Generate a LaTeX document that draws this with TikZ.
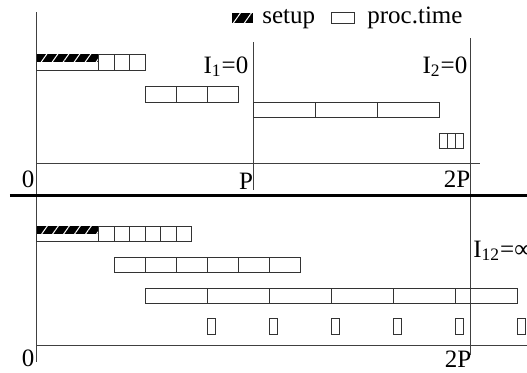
\documentclass[tikz,border=0pt]{standalone}
\usepackage{fontspec}
\setmainfont{Liberation Serif}
\usetikzlibrary{patterns.meta}

\begin{document}
\begin{tikzpicture}[x=0.5pt,y=-0.5pt,
    font=\fontsize{12.5}{14}\selectfont,
    axis/.style={draw=black!75,line width=0.5pt},
    box/.style={draw=black!80,line width=0.5pt},
    hatch/.style={fill=black,postaction={pattern={Lines[angle=55,distance=4.5pt,line width=0.5pt]},pattern color=white}},
    lbl/.style={inner sep=0pt,anchor=base}]
    \useasboundingbox (0,0) rectangle (527,372);

    % axes
    \coordinate (ytop) at (37,12);
    \coordinate (ybot) at (37,362);
    \coordinate (xa) at (37,163);
    \coordinate (xb) at (480,163);
    \coordinate (ptop) at (254,42);
    \coordinate (pbot) at (254,190);
    \coordinate (qtop) at (471,38);
    \coordinate (qbot) at (471,355);
    \coordinate (sa) at (10,195);
    \coordinate (sb) at (527,195);
    \coordinate (xc) at (37,345);
    \coordinate (xd) at (527,345);
    \draw[axis] (ytop) -- (ybot);
    \draw[axis] (xa) -- (xb);
    \draw[axis] (ptop) -- (pbot);
    \draw[axis] (qtop) -- (qbot);
    \draw[axis] (xc) -- (xd);
    \draw[line width=1.5pt] (sa) -- (sb);

    % labels
    \node[lbl] (zeroA) at (28,187) {0};
    \node[lbl] (P) at (246,189) {P};
    \node[lbl] (twoPA) at (457,187) {2P};
    \node[lbl] (zeroB) at (28,366) {0};
    \node[lbl] (twoPB) at (458,367) {2P};
    \node[lbl] (I1) at (226,73) {I\textsubscript{1}=0};
    \node[lbl] (I2) at (445,73) {I\textsubscript{2}=0};
    \node[lbl,anchor=base west] (I12) at (473,257) {I\textsubscript{12}=∞};

    % legend
    \fill[hatch] (232,13) rectangle (253,23);
    \node[lbl,anchor=base west] (setup) at (262,23) {setup};
    \draw[box] (332,12) rectangle (355,23);
    \node[lbl,anchor=base west] (proc) at (367,23) {proc.time};

    % first schedule (top)
    \begin{scope}[x=15.5pt,xshift=18.5pt]
        \draw[box] (0,54) rectangle (2,70);
        \fill[hatch] (0,54) rectangle (2,62);
        \foreach \i in {0,1,2} \draw[box] (2+0.5*\i,54) rectangle ++(0.5,16);
        \foreach \i in {0,1,2} \draw[box] (3.5+\i,86) rectangle ++(1,16);
        \foreach \i in {0,1,2} \draw[box] (7+2*\i,102) rectangle ++(2,15);
        \foreach \i in {0,1,2} \draw[box] (13+0.25*\i,133) rectangle ++(0.25,15);
    \end{scope}

    % second schedule (bottom)
    \begin{scope}[x=15.5pt,xshift=18.5pt]
        \draw[box] (0,226) rectangle (2,241);
        \fill[hatch] (0,226) rectangle (2,234);
        \foreach \i in {0,...,5} \draw[box] (2+0.5*\i,226) rectangle ++(0.5,15);
        \foreach \i in {0,...,5} \draw[box] (2.5+\i,257) rectangle ++(1,15);
        \foreach \i in {0,...,5} \draw[box] (3.5+2*\i,288) rectangle ++(2,15);
        \foreach \i in {0,...,5} \draw[box] (5.5+2*\i,318) rectangle ++(0.25,16);
    \end{scope}
\end{tikzpicture}
\end{document}
